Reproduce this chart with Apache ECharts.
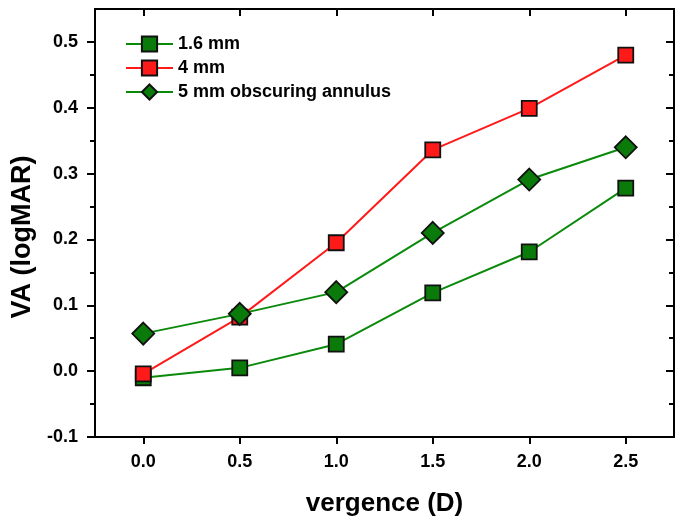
<!DOCTYPE html>
<html>
<head>
<meta charset="utf-8">
<script src="https://cdn.jsdelivr.net/npm/echarts@6/dist/echarts.min.js"></script>
<style>html,body{margin:0;padding:0;background:#fff}#c{width:684px;height:523px}</style>
</head>
<body>
<div id="c"></div>
<script>
var vergence = [0.0, 0.5, 1.0, 1.5, 2.0, 2.5];
var va16mm = [-0.010, 0.005, 0.041, 0.119, 0.181, 0.278];
var va4mm = [-0.004, 0.082, 0.195, 0.336, 0.399, 0.480];
var va5mmAnnulus = [0.057, 0.087, 0.120, 0.210, 0.291, 0.340];
var xTicks = [0.0, 0.5, 1.0, 1.5, 2.0, 2.5];
var yTicks = [-0.1, 0.0, 0.1, 0.2, 0.3, 0.4, 0.5];
var yMinorTicks = [-0.05, 0.05, 0.15, 0.25, 0.35, 0.45];

function pairs(xs, ys) { return xs.map(function (x, i) { return [x, ys[i]]; }); }

var font = 'Liberation Sans, Arial, sans-serif';
var lineGreen = '#0a8a0a';
var fillGreen = '#0a7a0a';
var red = '#ff1a1a';

var chart = echarts.init(document.getElementById('c'));
var axisLine = { show: true, onZero: false, lineStyle: { color: '#000', width: 2 } };
var yMin = -0.1, yMax = 0.55, xMin = -0.25, xMax = 2.75;

function yAxisDef(pos, ticks, inside, len, showLabel, name) {
  var a = {
    type: 'value', position: pos, min: yMin, max: yMax,
    axisLine: axisLine,
    splitLine: { show: false },
    axisTick: { show: true, inside: inside, length: len, customValues: ticks, lineStyle: { color: '#000', width: 2 } },
    axisLabel: { show: showLabel, customValues: ticks, margin: 17, fontFamily: font, fontWeight: 'bold', fontSize: 18, color: '#000',
      formatter: function (v) { return v.toFixed(1); } }
  };
  if (name) {
    a.name = name; a.nameLocation = 'middle'; a.nameGap = 48;
    a.nameTextStyle = { fontFamily: font, fontWeight: 'bold', fontSize: 27, color: '#000', padding: [0, 28, 0, 0] };
  }
  return a;
}

var option = {
  animation: false,
  backgroundColor: '#fff',
  grid: { left: 95, top: 9, right: 10, bottom: 86, containLabel: false },
  xAxis: [
    { type: 'value', position: 'bottom', min: xMin, max: xMax,
      name: 'vergence (D)', nameLocation: 'middle', nameGap: 54,
      nameTextStyle: { fontFamily: font, fontWeight: 'bold', fontSize: 26, color: '#000' },
      axisLine: axisLine, splitLine: { show: false },
      axisTick: { show: true, inside: false, length: 7, customValues: xTicks, lineStyle: { color: '#000', width: 2 } },
      axisLabel: { customValues: xTicks, margin: 16, fontFamily: font, fontWeight: 'bold', fontSize: 18, color: '#000',
        formatter: function (v) { return v.toFixed(1); } } },
    { type: 'value', position: 'top', min: xMin, max: xMax,
      axisLine: axisLine, splitLine: { show: false },
      axisTick: { show: true, inside: true, length: 7, customValues: xTicks, lineStyle: { color: '#000', width: 2 } },
      axisLabel: { show: false } }
  ],
  yAxis: [
    yAxisDef('left', yTicks, false, 8, true, 'VA (logMAR)'),
    yAxisDef('left', yMinorTicks, false, 5, false),
    yAxisDef('right', yTicks, true, 8, false),
    yAxisDef('right', yMinorTicks, true, 5, false)
  ],
  legend: {
    left: 120, top: 30, orient: 'vertical', itemGap: 6, itemWidth: 47, itemHeight: 19,
    textStyle: { fontFamily: font, fontWeight: 'bold', fontSize: 18, color: '#000' },
    data: ['1.6 mm', '4 mm', '5 mm obscuring annulus']
  },
  series: [
    { name: '1.6 mm', type: 'line', data: pairs(vergence, va16mm), symbol: 'rect', symbolSize: 15,
      lineStyle: { color: lineGreen, width: 2 }, itemStyle: { color: fillGreen, borderColor: '#111', borderWidth: 1.8 }, z: 3 },
    { name: '4 mm', type: 'line', data: pairs(vergence, va4mm), symbol: 'rect', symbolSize: 15,
      lineStyle: { color: red, width: 2 }, itemStyle: { color: red, borderColor: '#111', borderWidth: 1.8 }, z: 4 },
    { name: '5 mm obscuring annulus', type: 'line', data: pairs(vergence, va5mmAnnulus), symbol: 'diamond', symbolSize: 22,
      lineStyle: { color: lineGreen, width: 2 }, itemStyle: { color: fillGreen, borderColor: '#111', borderWidth: 1.8 }, z: 5 }
  ]
};
chart.setOption(option);
</script>
</body>
</html>
